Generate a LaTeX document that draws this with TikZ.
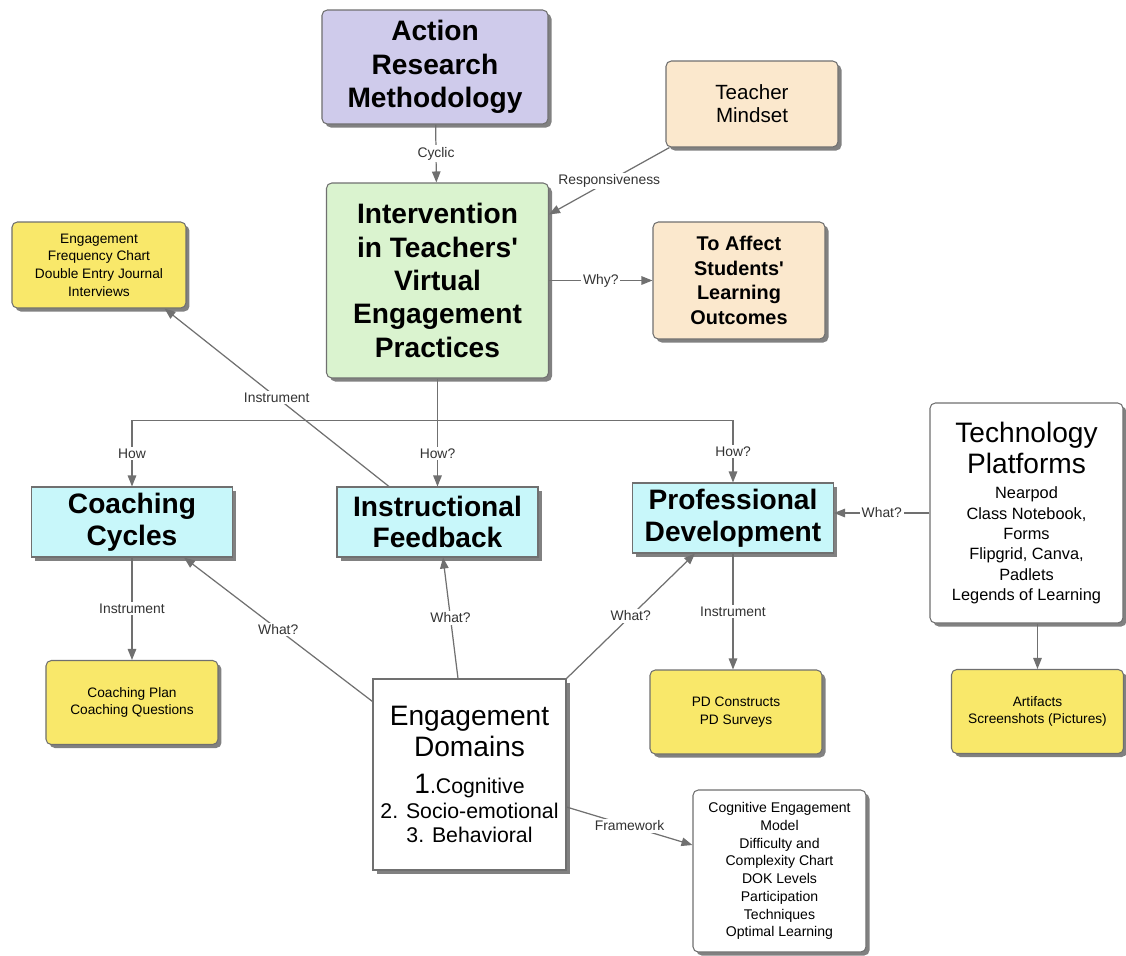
\documentclass[tikz,border=0pt]{standalone}
\usepackage{fontspec}
\setmainfont{Liberation Sans}
\usetikzlibrary{shapes,arrows.meta,positioning,shadows}
\definecolor{lavender}{RGB}{207,203,235}
\definecolor{peach}{RGB}{251,232,205}
\definecolor{mint}{RGB}{218,243,207}
\definecolor{lemon}{RGB}{249,232,106}
\definecolor{aqua}{RGB}{200,247,250}
\definecolor{edgegray}{RGB}{112,112,112}
\newcommand{\bigline}{\fontsize{16}{17.6}\selectfont}
\newcommand{\techlist}{\fontsize{9.3}{11.6}\selectfont}
\newcommand{\domlist}{\fontsize{12.1}{14.2}\selectfont}
\tikzstyle{concept} = [rectangle, draw=edgegray, line width=0.6pt, align=center, text centered, inner sep=2pt, drop shadow={shadow xshift=0.07cm, shadow yshift=-0.07cm, fill=black!55, opacity=0.9}]
\tikzstyle{method} = [concept, rounded corners=3pt, fill=lavender, minimum width=4.52cm, minimum height=2.28cm, font=\bfseries\fontsize{16}{19}\selectfont]
\tikzstyle{core} = [concept, rounded corners=3pt, fill=mint, minimum width=4.44cm, minimum height=3.9cm, font=\bfseries\fontsize{16}{19}\selectfont]
\tikzstyle{goal} = [concept, rounded corners=3pt, fill=peach, minimum width=3.44cm]
\tikzstyle{strategy} = [concept, fill=aqua, minimum width=4.02cm, minimum height=1.4cm, font=\bfseries\fontsize{16}{18}\selectfont]
\tikzstyle{tool} = [concept, rounded corners=3pt, fill=lemon, minimum width=3.44cm, minimum height=1.68cm, font=\fontsize{7.8}{10}\selectfont]
\tikzstyle{plain} = [concept, fill=white]
\tikzstyle{arrow} = [draw=edgegray, line width=0.7pt, -{Triangle[length=0.22cm,width=0.17cm]}]
\tikzstyle{link} = [fill=white, inner sep=1pt, text=black!80, font=\fontsize{7.9}{9}\selectfont]

\begin{document}
\begin{tikzpicture}[node distance=4.25cm]

\useasboundingbox (-8.70,1.34) rectangle (13.82,-17.76);

\node (arm) [method] {Action\\Research\\Methodology};

\node (interv) [core, below of=arm, xshift=0.05cm, yshift=-0.02cm] {Intervention\\in Teachers\textquotesingle\\Virtual\\Engagement\\Practices};

\node (mind) [goal, right of=arm, xshift=2.09cm, yshift=-0.74cm, minimum height=1.72cm, font=\fontsize{11.7}{13.2}\selectfont] {Teacher\\Mindset};

\node (affect) [goal, right of=interv, xshift=1.78cm, minimum height=2.34cm, font=\bfseries\fontsize{11.3}{13.9}\selectfont] {To Affect\\Students\textquotesingle\\Learning\\Outcomes};

\node (freq) [tool, left of=interv, xshift=-2.52cm, yshift=0.31cm, minimum width=3.48cm, minimum height=1.72cm] {Engagement\\Frequency Chart\\Double Entry Journal\\Interviews};

\node (instr) [strategy, below of=interv, yshift=-0.58cm] {Instructional\\Feedback};

\node (coach) [strategy, left of=instr, xshift=-1.86cm] {Coaching\\Cycles};

\node (pd) [strategy, right of=instr, xshift=1.66cm, yshift=0.08cm] {Professional\\Development};

\node (tech) [plain, rounded corners=3pt, right of=pd, xshift=1.62cm, yshift=0.10cm, minimum width=3.86cm, minimum height=4.4cm, font=\techlist] {\bigline Technology\\[1.5pt]\bigline Platforms\\[3pt]Nearpod\\Class Notebook,\\Forms\\Flipgrid, Canva,\\Padlets\\Legends of Learning};

\node (plan) [tool, below of=coach, yshift=0.64cm] {Coaching Plan\\Coaching Questions};

\node (pdc) [tool, below of=pd, xshift=0.06cm, yshift=0.37cm] {PD Constructs\\PD Surveys};

\node (art) [tool, below of=tech, xshift=0.22cm, yshift=0.28cm] {Artifacts\\Screenshots (Pictures)};

\node (dom) [plain, below of=instr, xshift=0.64cm, yshift=-0.80cm, minimum width=3.86cm, minimum height=3.82cm, font=\domlist] {\bigline Engagement\\[2pt]\bigline Domains\\[6.5pt]{\bigline 1}.Cognitive\\2. Socio-emotional\\3. Behavioral};

\node (cem) [plain, rounded corners=3pt, below of=pdc, xshift=0.87cm, yshift=1.07cm, minimum width=3.46cm, minimum height=3.24cm, font=\fontsize{8}{10.1}\selectfont] {Cognitive Engagement\\Model\\Difficulty and\\Complexity Chart\\DOK Levels\\Participation\\Techniques\\Optimal Learning};

\coordinate (fork) at ([yshift=-0.84cm]interv.south);

\draw [arrow] (arm) -- node[link] {Cyclic} (interv);
\draw [arrow] ([xshift=0.08cm]mind.south west) -- node[link] {Responsiveness} ([yshift=-0.64cm]interv.north east);
\draw [arrow] (interv) -- node[link] {Why?} (affect);

\draw [draw=edgegray, line width=0.7pt] (interv) -- (fork);
\draw [arrow] (fork) -| node[link, pos=0.75] {How} (coach);
\draw [arrow] (fork) -- node[link] {How?} (instr);
\draw [arrow] (fork) -| node[link, pos=0.75] {How?} (pd);

\draw [arrow] ([xshift=-0.97cm]instr.north) -- node[link] {Instrument} ([xshift=-0.44cm]freq.south east);
\draw [arrow] (coach) -- node[link] {Instrument} (plan);
\draw [arrow] (pd) -- node[link] {Instrument} (pd |- pdc.north);

\draw [arrow] ([yshift=-0.46cm]dom.north west) -- node[link] {What?} ([xshift=-0.98cm]coach.south east);
\draw [arrow] ([xshift=-0.23cm]dom.north) -- node[link] {What?} ([xshift=0.11cm]instr.south);
\draw [arrow] (dom.north east) -- node[link] {What?} ([xshift=1.26cm]pd.south west);
\draw [arrow] (tech) -- node[link] {What?} (tech -| pd.east);
\draw [arrow] (art |- tech.south) -- (art);
\draw [arrow] ([yshift=-0.65cm]dom.east) -- node[link] {Framework} ([yshift=0.52cm]cem.west);
\end{tikzpicture}
\end{document}
